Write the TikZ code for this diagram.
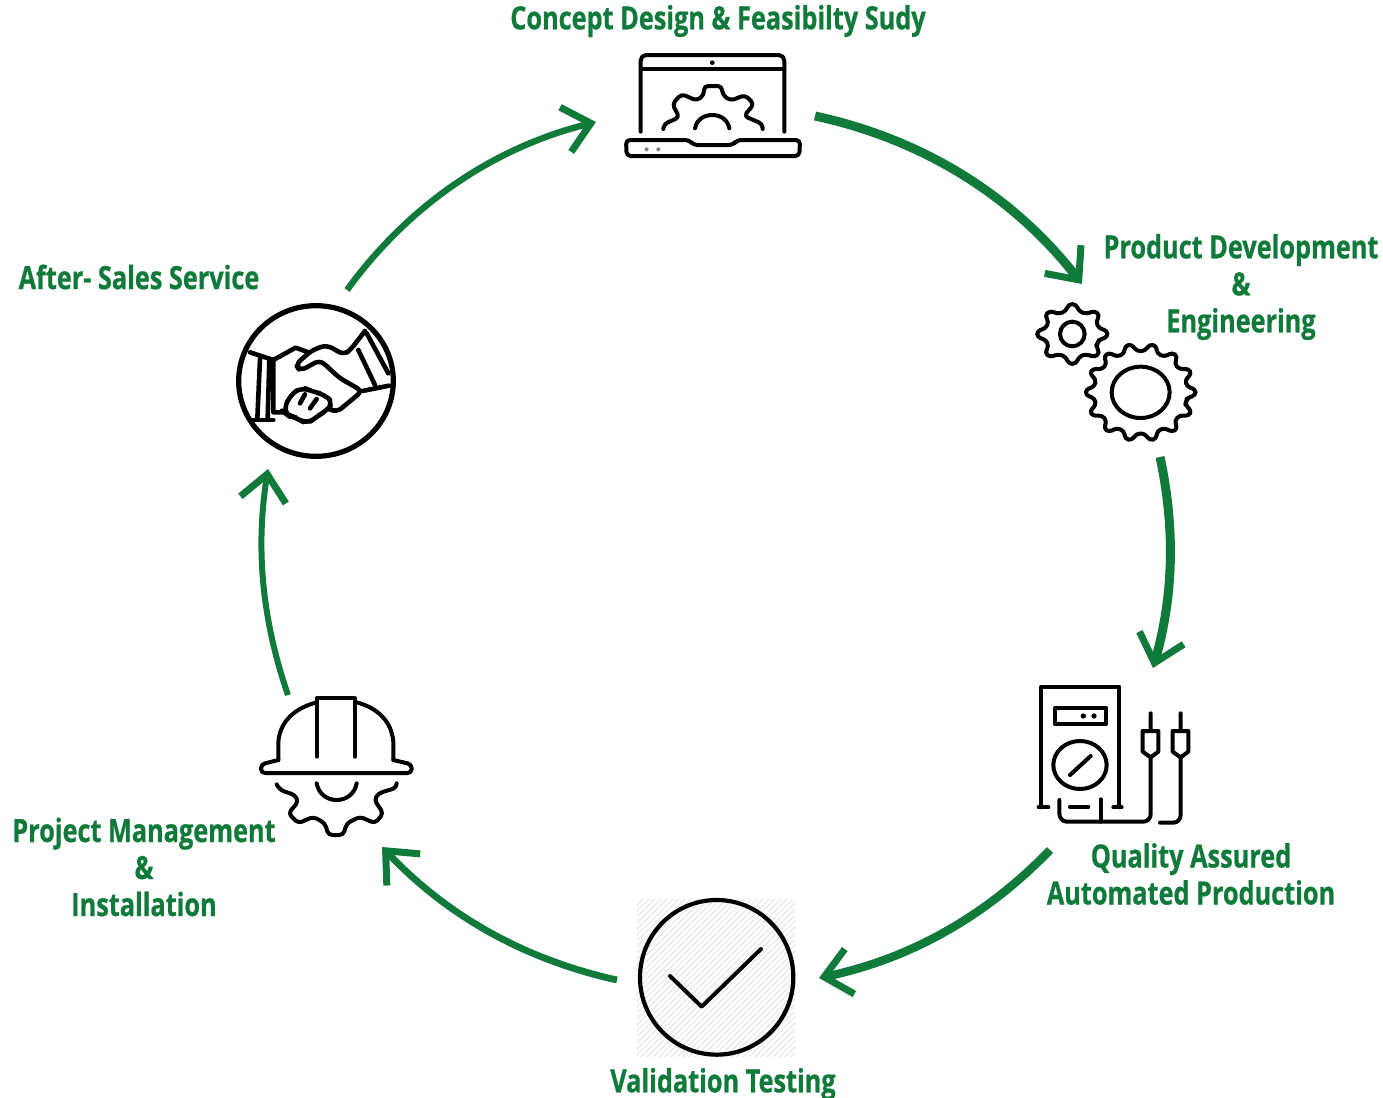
\documentclass[tikz,border=0pt]{standalone}
\usepackage{fontspec}
\setmainfont{Open Sans}[FakeStretch=0.79,BoldFeatures={FakeBold=0.7}]
\usetikzlibrary{arrows.meta,positioning}
\definecolor{cyclegreen}{HTML}{0F7A3A}
\tikzset{
  steplabel/.style={font=\fontsize{16}{18.5}\selectfont\bfseries, text=cyclegreen, align=center, inner sep=0pt},
  cyclearrow/.style={draw=cyclegreen, line width=#1, -{Straight Barb[length=13pt,width=23pt,line width=3.5pt]}, looseness=0.9},
  iconline/.style={draw=black, line width=2pt, line join=round, line cap=round},
  handline/.style={iconline, line width=2.3pt},
  hatchline/.style={draw=gray!15, line width=0.8pt}
}
\newcommand{\gearicon}[6]{%
  \draw[iconline, rounded corners=1.8pt]
  ({#1+#6*#3*cos(180/#5)},{#2+#6*#4*sin(180/#5)})
  \foreach \t [evaluate=\t as \a using 360*\t/#5, evaluate=\t as \p using 360/#5] in {1,...,#5} {
    -- ({#1+#6*#3*cos(\a-0.3*\p)},{#2+#6*#4*sin(\a-0.3*\p)})
    -- ({#1+#3*cos(\a-0.14*\p)},{#2+#4*sin(\a-0.14*\p)})
    -- ({#1+#3*cos(\a+0.14*\p)},{#2+#4*sin(\a+0.14*\p)})
    -- ({#1+#6*#3*cos(\a+0.3*\p)},{#2+#6*#4*sin(\a+0.3*\p)})
  } -- cycle;
}
\begin{document}
\begin{tikzpicture}[x=0.5pt,y=-0.5pt]
  \useasboundingbox (0,0) rectangle (1383,1098);

  \node[steplabel] (concept) at (718,21) {Concept Design \& Feasibilty Sudy};
  \node[steplabel] (product) at (1241,287) {Product Development\\\&\\Engineering};
  \node[steplabel] (quality) at (1191,874) {Quality Assured\\Automated Production};
  \node[steplabel] (validation) at (723,1084) {Validation Testing};
  \node[steplabel] (project) at (144,867) {Project Management\\\&\\Installation};
  \node[steplabel] (aftersales) at (139,277) {After- Sales Service};

  % laptop
  \begin{scope}[shift={(600,30)},scale=1/3]
    \draw[iconline] (122,305) -- (122,92) to[out=90,in=180] (138,75) -- (537,75) to[out=0,in=90] (553,92) -- (553,305);
    \draw[iconline] (122,118) -- (553,118);
    \fill (337,98) circle (7);
    \draw[iconline, rounded corners=2pt] (190,297) -- (192,282) -- (238,262) -- (217,222) -- (245,192) -- (290,212)
    -- (312,195) -- (312,168) -- (365,168) -- (368,195) -- (392,212) -- (435,195) -- (462,222) -- (432,258) -- (488,282) -- (488,297);
    \draw[iconline] (285,295) to[out=80,in=180] (337,255) to[out=0,in=100] (388,295);
    \draw[iconline, rounded corners=2pt] (78,330) -- (268,330) -- (280,345) -- (400,345) -- (410,330) -- (600,330)
    -- (598,378) -- (80,378) -- cycle;
    \fill[gray] (140,358) circle (6) (175,358) circle (6);
  \end{scope}

  % gears
  \begin{scope}[shift={(1020,290)},scale=1/3]
    \gearicon{157}{132}{106}{90}{8}{0.78}
    \draw[iconline] (157,132) circle (37);
    \gearicon{362}{307}{165}{146}{14}{0.85}
    \draw[iconline] (362,307) ellipse (87 and 77);
  \end{scope}

  % multimeter
  \begin{scope}[shift={(1020,670)},scale=1/3]
    \draw[iconline] (56,412) -- (85,412) (64,412) -- (64,50) -- (298,50) -- (298,412) (280,412) -- (305,412);
    \draw[iconline] (105,113) rectangle (258,162);
    \fill (190,138) circle (8) (222,138) circle (8);
    \draw[iconline] (180,285) ellipse (80 and 72);
    \draw[iconline] (150,315) -- (212,258);
    \draw[iconline] (150,410) -- (205,410);
    \draw[iconline] (118,390) -- (118,430) to[out=-90,in=180] (140,455) -- (370,455) to[out=0,in=-90] (392,432) -- (392,262);
    \draw[iconline] (242,388) -- (242,455);
    \draw[iconline] (392,130) -- (392,183) (368,183) -- (415,183) -- (415,245) -- (392,262) -- (368,245) -- cycle;
    \draw[iconline] (482,130) -- (482,183) (458,183) -- (505,183) -- (505,245) -- (482,262) -- (458,245) -- cycle;
    \draw[iconline] (482,262) -- (482,435) to[out=-90,in=0] (460,458) -- (420,458);
  \end{scope}

  % check mark
  \begin{scope}
    \clip (637,899) rectangle (795,1057);
    \foreach \x in {479,485,...,795}
      \draw[hatchline] (\x,1057) -- +(158,-158);
  \end{scope}
  \begin{scope}[shift={(625,890)},scale=1/3]
    \draw[iconline, line width=2.1pt, fill=none] (275,262) ellipse (230 and 232);
    \draw[iconline, line width=2pt] (135,258) -- (230,350) -- (408,177);
  \end{scope}

  % helmet
  \begin{scope}[shift={(245,685)},scale=1/3]
    \draw[iconline, rounded corners=2pt] (100,225) -- (48,238) -- (48,264) -- (500,264) -- (500,238) -- (445,225);
    \draw[iconline] (100,225) -- (100,170) to[out=85,in=195] (215,52) (335,52) to[out=-15,in=95] (445,170) -- (445,225);
    \draw[iconline] (215,215) -- (215,40) -- (330,40) -- (330,215);
    \draw[iconline, rounded corners=2pt] (95,298) -- (105,315) -- (150,330) -- (160,350) -- (130,385) -- (160,415) -- (205,395) -- (240,415)
    -- (250,450) -- (295,450) -- (305,415) -- (345,395) -- (390,415) -- (415,385) -- (388,345) -- (400,325) -- (455,308) -- (455,295);
    \draw[iconline] (215,295) to[out=-80,in=180] (275,345) to[out=0,in=-100] (335,295);
  \end{scope}

  % handshake
  \begin{scope}[shift={(225,295)},scale=1/3]
    \clip (0,26) rectangle (560,520);
    \draw[iconline, line width=2.6pt] (273,258) ellipse (232 and 226);
    \draw[handline] (75,172) -- (145,195) -- (145,352) -- (175,352);
    \draw[handline] (78,375) -- (145,375);
    \draw[handline] (105,192) -- (97,372) (133,195) -- (128,372);
    \draw[handline] (145,195) -- (212,158) -- (250,172);
    \draw[handline, rounded corners=3pt] (420,108) -- (380,160) -- (358,180) -- (305,150) -- (262,165) -- (212,208) -- (225,228) -- (285,195)
    -- (345,250) -- (412,288) -- (335,352) -- (312,342);
    \draw[handline] (412,288) -- (492,272);
    \draw[handline] (425,115) -- (490,235);
    \draw[handline] (400,165) -- (450,270);
    \draw[handline, rounded corners=4pt] (175,350) -- (195,300) -- (232,276) -- (262,290) -- (298,298) -- (326,325) -- (300,350) -- (275,365)
    -- (245,388) -- (215,368) -- (190,362) -- cycle;
    \draw[handline] (240,298) -- (225,325) (275,312) -- (255,340);
  \end{scope}

  % arrow ends
  \coordinate (laptopOut) at (815,116);
  \coordinate (gearsIn) at (1082,284);
  \coordinate (gearsOut) at (1160,457);
  \coordinate (meterIn) at (1153,668);
  \coordinate (meterOut) at (1050,850);
  \coordinate (checkIn) at (819,978);
  \coordinate (checkOut) at (617,980);
  \coordinate (helmetIn) at (382,847);
  \coordinate (helmetOut) at (288,695);
  \coordinate (handsIn) at (268,469);
  \coordinate (handsOut) at (347,290);
  \coordinate (laptopIn) at (596,122);

  \draw[cyclearrow=4.5pt] (laptopOut) to[bend left=20] (gearsIn);
  \draw[cyclearrow=4.5pt] (gearsOut) to[bend left=14] (meterIn);
  \draw[cyclearrow=4.2pt] (meterOut) to[bend left=17] (checkIn);
  \draw[cyclearrow=3.4pt] (checkOut) to[bend left=17] (helmetIn);
  \draw[cyclearrow=3pt] (helmetOut) to[bend left=14] (handsIn);
  \draw[cyclearrow=3.2pt] (handsOut) to[bend left=20] (laptopIn);
\end{tikzpicture}
\end{document}
